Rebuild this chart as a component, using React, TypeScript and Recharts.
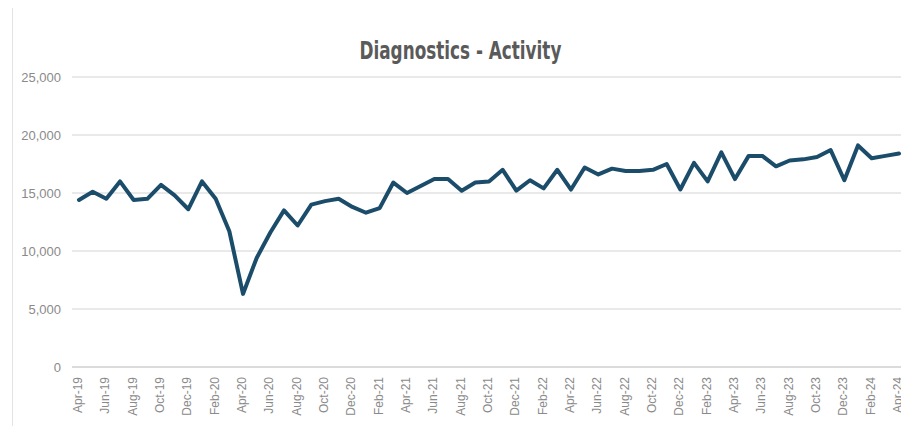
import { CartesianGrid, Line, LineChart, XAxis, YAxis } from 'recharts';

// Monthly diagnostic test counts, Apr-19 through Apr-24
const months = [
  'Apr-19', 'May-19', 'Jun-19', 'Jul-19', 'Aug-19', 'Sep-19', 'Oct-19', 'Nov-19', 'Dec-19',
  'Jan-20', 'Feb-20', 'Mar-20', 'Apr-20', 'May-20', 'Jun-20', 'Jul-20', 'Aug-20', 'Sep-20', 'Oct-20', 'Nov-20', 'Dec-20',
  'Jan-21', 'Feb-21', 'Mar-21', 'Apr-21', 'May-21', 'Jun-21', 'Jul-21', 'Aug-21', 'Sep-21', 'Oct-21', 'Nov-21', 'Dec-21',
  'Jan-22', 'Feb-22', 'Mar-22', 'Apr-22', 'May-22', 'Jun-22', 'Jul-22', 'Aug-22', 'Sep-22', 'Oct-22', 'Nov-22', 'Dec-22',
  'Jan-23', 'Feb-23', 'Mar-23', 'Apr-23', 'May-23', 'Jun-23', 'Jul-23', 'Aug-23', 'Sep-23', 'Oct-23', 'Nov-23', 'Dec-23',
  'Jan-24', 'Feb-24', 'Mar-24', 'Apr-24',
];

const activity = [
  14400, 15100, 14500, 16000, 14400, 14500, 15700, 14800, 13600,
  16000, 14500, 11700, 6300, 9400, 11600, 13500, 12200, 14000, 14300, 14500, 13800,
  13300, 13700, 15900, 15000, 15600, 16200, 16200, 15200, 15900, 16000, 17000, 15200,
  16100, 15400, 17000, 15300, 17200, 16600, 17100, 16900, 16900, 17000, 17500, 15300,
  17600, 16000, 18500, 16200, 18200, 18200, 17300, 17800, 17900, 18100, 18700, 16100,
  19100, 18000, 18200, 18400,
];

const yTicks = [0, 5000, 10000, 15000, 20000, 25000];

const rows = months.map((month, i) => ({ month, activity: activity[i] }));

const labelFont = "'Liberation Sans', Arial, sans-serif";

function MonthTick({ x, y, payload }: { x: number; y: number; payload: { value: string } }) {
  return (
    <g transform={`translate(${x},${y})`}>
      <text
        transform="rotate(-90)"
        x={-10}
        dy="0.25em"
        textAnchor="end"
        fill="#8a8a8a"
        fontSize={12}
        fontFamily={labelFont}
      >
        {payload.value}
      </text>
    </g>
  );
}

export default function App() {
  return (
    <div style={{ position: 'relative', width: 909, height: 434, margin: -8, background: '#fff', overflow: 'hidden' }}>
      <div
        style={{
          position: 'absolute',
          left: 12,
          top: 7,
          width: 920,
          height: 426,
          borderLeft: '1.5px solid #e2e2e2',
          borderTop: '1.5px solid #e2e2e2',
          borderBottom: '1.5px solid #ececec',
        }}
      />
      <div
        style={{
          position: 'absolute',
          left: 0,
          width: 920,
          top: 37,
          textAlign: 'center',
          fontFamily: "'DejaVu Sans Condensed', 'Liberation Sans', sans-serif",
          fontWeight: 700,
          fontSize: 24,
          color: '#5a5a5a',
        }}
      >
        <span style={{ display: 'inline-block', transform: 'scaleX(0.78)', transformOrigin: 'center' }}>
          Diagnostics - Activity
        </span>
      </div>
      <LineChart
        width={909}
        height={434}
        data={rows}
        margin={{ top: 77, right: 1, bottom: 0, left: 0 }}
        style={{ position: 'absolute', left: 0, top: 0, overflow: 'visible' }}
      >
        <CartesianGrid vertical={false} stroke="#e2e2e2" strokeWidth={1.5} />
        <XAxis
          dataKey="month"
          interval={1}
          height={67}
          padding={{ left: 7, right: 9 }}
          axisLine={{ stroke: '#d6d6d6', strokeWidth: 1.5 }}
          tickLine={false}
          tickSize={0}
          tickMargin={0}
          tick={MonthTick}
        />
        <YAxis
          width={72}
          domain={[0, 25000]}
          ticks={yTicks}
          axisLine={false}
          tickLine={false}
          tickSize={0}
          tickMargin={11}
          tickFormatter={(v: number) => v.toLocaleString('en-US')}
          tick={{ fill: '#8a8a8a', fontSize: 13, fontFamily: labelFont }}
        />
        <Line
          type="linear"
          dataKey="activity"
          stroke="#1b4d6b"
          strokeWidth={4}
          strokeLinejoin="round"
          strokeLinecap="round"
          dot={false}
          activeDot={false}
          isAnimationActive={false}
        />
      </LineChart>
    </div>
  );
}
